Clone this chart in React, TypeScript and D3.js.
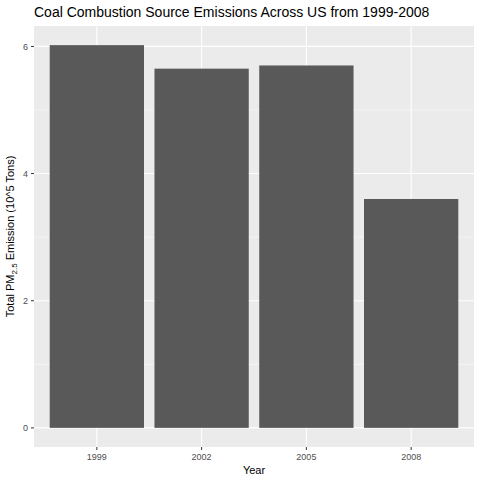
import * as d3 from 'd3';

const years = ['1999', '2002', '2005', '2008'];
const emissions = [6.02, 5.65, 5.7, 3.6];
const yTicks = [0, 2, 4, 6];
const yMinor = [1, 3, 5];

export default function App() {
  const width = 480;
  const height = 480;
  const margin = { top: 26, right: 6, bottom: 33, left: 34 };
  const innerW = width - margin.left - margin.right;
  const innerH = height - margin.top - margin.bottom;
  const maxV = d3.max(emissions) || 0;

  const x = d3.scaleBand().domain(years).range([0, innerW]).paddingInner(0.1).paddingOuter(0.15);
  const y = d3.scaleLinear().domain([-maxV * 0.05, maxV * 1.05]).range([innerH, 0]);

  return (
    <svg width={width} height={height} style={{ position: 'absolute', left: 0, top: 0, fontFamily: 'Arial, Liberation Sans, sans-serif' }}>
      <rect width={width} height={height} fill="#fff" />
      <text x={margin.left} y={17} fontSize={14} fill="#000">Coal Combustion Source Emissions Across US from 1999-2008</text>
      <g transform={`translate(${margin.left},${margin.top})`}>
        <rect width={innerW} height={innerH} fill="#EBEBEB" />
        {yMinor.map((t) => (
          <line key={'m' + t} x1={0} x2={innerW} y1={y(t)} y2={y(t)} stroke="#fff" strokeWidth={0.5} />
        ))}
        {yTicks.map((t) => (
          <line key={'g' + t} x1={0} x2={innerW} y1={y(t)} y2={y(t)} stroke="#fff" strokeWidth={1.1} />
        ))}
        {years.map((yr) => (
          <line key={'v' + yr} x1={(x(yr) || 0) + x.bandwidth() / 2} x2={(x(yr) || 0) + x.bandwidth() / 2} y1={0} y2={innerH} stroke="#fff" strokeWidth={1.1} />
        ))}
        {years.map((yr, i) => (
          <rect key={yr} x={x(yr) || 0} y={y(emissions[i])} width={x.bandwidth()} height={y(0) - y(emissions[i])} fill="#595959" />
        ))}
        {yTicks.map((t) => (
          <g key={'t' + t}>
            <line x1={-3} x2={0} y1={y(t)} y2={y(t)} stroke="#333" />
            <text x={-6} y={y(t)} dy="0.35em" textAnchor="end" fontSize={9} fill="#4D4D4D">{t}</text>
          </g>
        ))}
        {years.map((yr) => (
          <g key={'xt' + yr}>
            <line x1={(x(yr) || 0) + x.bandwidth() / 2} x2={(x(yr) || 0) + x.bandwidth() / 2} y1={innerH} y2={innerH + 3} stroke="#333" />
            <text x={(x(yr) || 0) + x.bandwidth() / 2} y={innerH + 13} textAnchor="middle" fontSize={9} fill="#4D4D4D">{yr}</text>
          </g>
        ))}
        <text x={innerW / 2} y={innerH + 27} textAnchor="middle" fontSize={11} fill="#000">Year</text>
        <text transform={`translate(-20,${innerH / 2}) rotate(-90)`} textAnchor="middle" fontSize={11} fill="#000">
          Total PM<tspan fontSize={8} dy={3}>2.5</tspan><tspan dy={-3}> Emission (10^5 Tons)</tspan>
        </text>
      </g>
    </svg>
  );
}
